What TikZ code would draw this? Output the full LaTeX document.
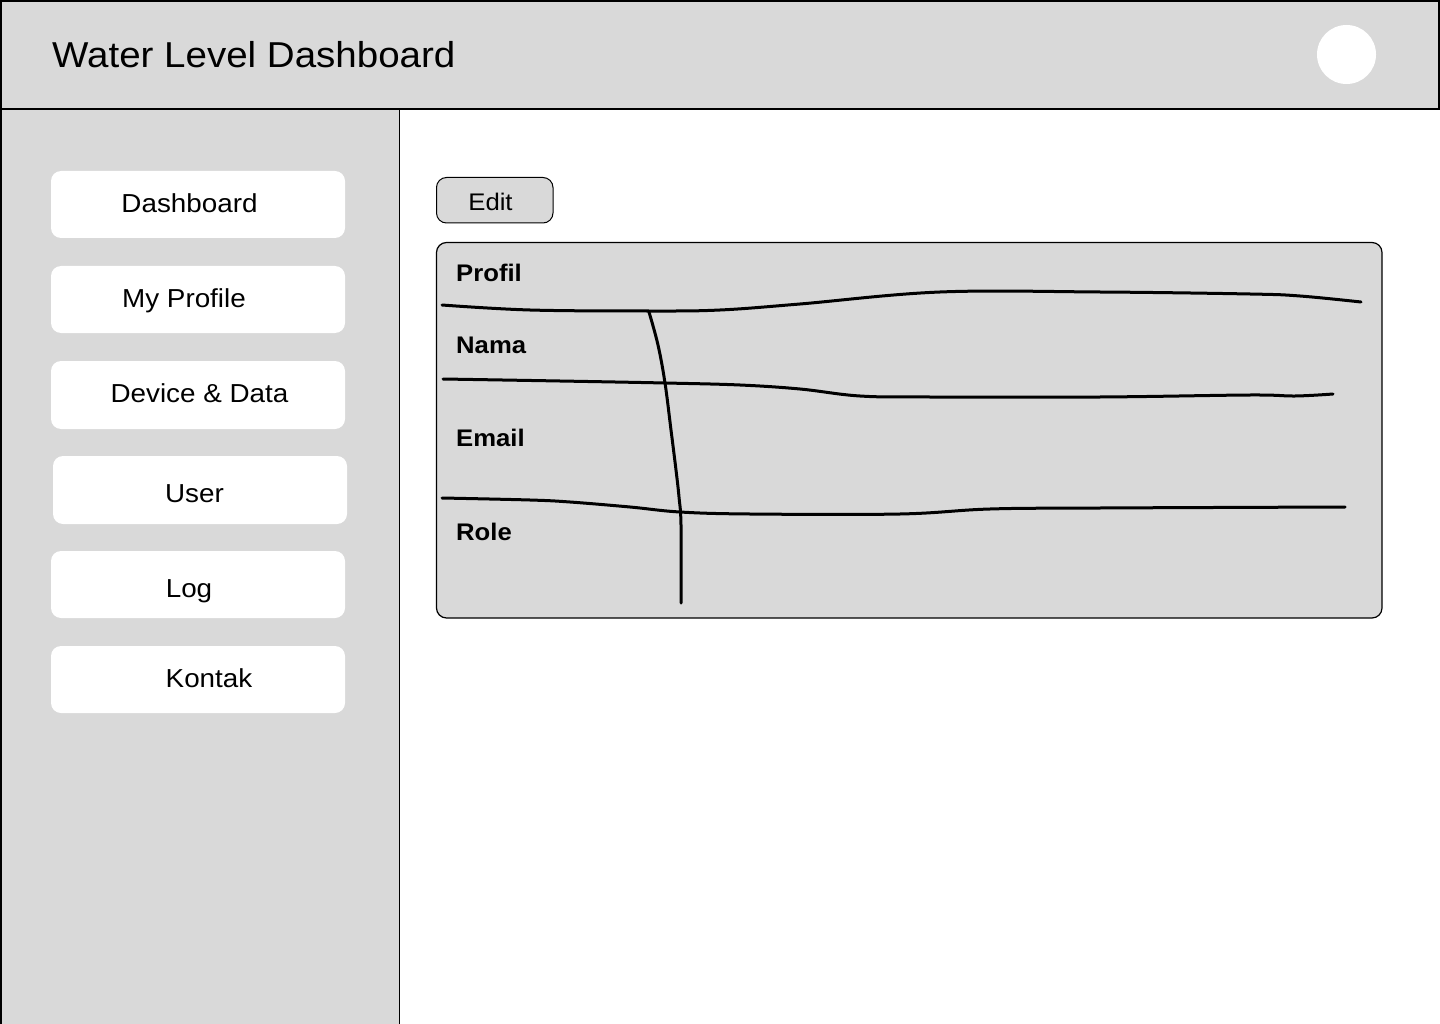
\documentclass[tikz,border=0pt]{standalone}
\usepackage{fontspec}
\setmainfont{Liberation Sans}[FakeStretch=1.07]
\definecolor{uigray}{HTML}{D9D9D9}
\tikzset{
  panel/.style={fill=uigray, draw=black, line width=1.8pt},
  navbtn/.style={fill=white, draw=none, rounded corners=10pt},
  navtext/.style={anchor=base, inner sep=0pt, font=\fontsize{26}{30}\selectfont},
  fieldlbl/.style={anchor=base west, inner sep=0pt, font=\fontsize{24}{28}\selectfont\bfseries},
  sketch/.style={line width=3pt, line cap=round, line join=round},
}
\begin{document}
\begin{tikzpicture}[x=1pt,y=-1pt]
\useasboundingbox (0,0) rectangle (1440,1024);
\fill[white] (0,0) rectangle (1440,1024);
% sidebar
\fill[uigray] (0,109) rectangle (399.5,1024);
\draw[line width=1.8pt] (1,109) -- (1,1024);
\draw[line width=1.5pt] (399.5,109) -- (399.5,1024);
% header
\draw[panel] (1,1) rectangle (1439,109);
\node[anchor=base west, inner sep=0pt, font=\fontsize{36}{40}\selectfont] (title) at (52,68) {Water Level Dashboard};
\fill[white] (1346.5,54.5) circle (29.5);
% nav buttons
\fill[navbtn] (51,171) rectangle (345,238);
\fill[navbtn] (51,266) rectangle (345,333);
\fill[navbtn] (51,361) rectangle (345,429);
\fill[navbtn] (53,456) rectangle (347,524);
\fill[navbtn] (51,551) rectangle (345,618);
\fill[navbtn] (51,646) rectangle (345,713);
\node[navtext] (nDash) at (189.5,213) {Dashboard};
\node[navtext] (nProf) at (184,308) {My Profile};
\node[navtext] (nDev) at (199.5,402) {Device \& Data};
\node[navtext] (nUser) at (194.5,502) {User};
\node[navtext] (nLog) at (189,597) {Log};
\node[navtext] (nKont) at (209,687) {Kontak};
% edit button
\draw[fill=uigray, rounded corners=10pt, line width=1pt] (436.5,177.5) rectangle (553,223);
\node[anchor=base, inner sep=0pt, font=\fontsize{24}{28}\selectfont] (edit) at (490.5,211) {Edit};
% card
\draw[fill=uigray, rounded corners=10pt, line width=1.2pt] (436.5,242.5) rectangle (1382,618);
\node[fieldlbl] (lProfil) at (456,282) {Profil};
\node[fieldlbl] (lNama) at (456,353) {Nama};
\node[fieldlbl] (lEmail) at (456,446) {Email};
\node[fieldlbl] (lRole) at (456,540) {Role};
% hand-drawn lines
\draw[sketch] plot[smooth, tension=0.6] coordinates {(442,305) (530,310) (650,311) (720,310) (800,304) (940,292) (1100,292) (1250,294) (1300,296) (1361,302)};
\draw[sketch] plot[smooth, tension=0.6] coordinates {(443,379) (560,381) (665,383) (740,385) (800,389) (860,396) (930,397) (1100,397) (1250,395) (1295,396) (1333,394)};
\draw[sketch] plot[smooth, tension=0.6] coordinates {(442,498) (530,500) (570,502) (630,507) (680,512) (750,514) (900,514) (990,509) (1100,508) (1345,507)};
\draw[sketch] plot[smooth, tension=0.6] coordinates {(649,312) (658,345) (665,383) (671,430) (676,470) (679,497) (681,525) (681,603)};
\end{tikzpicture}
\end{document}
